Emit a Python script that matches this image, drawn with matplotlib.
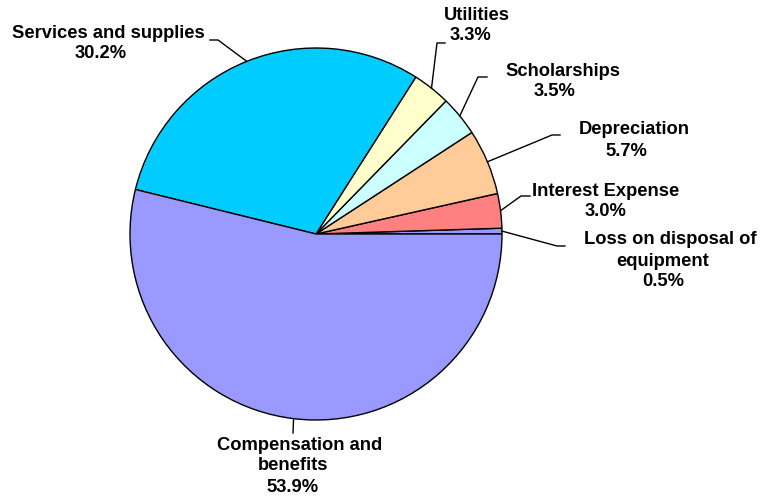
import matplotlib
matplotlib.use("Agg")
import matplotlib.pyplot as plt
import numpy as np

categories = ["Loss on disposal of\nequipment", "Interest Expense", "Depreciation",
              "Scholarships", "Utilities", "Services and supplies",
              "Compensation and\nbenefits"]
values = [0.5, 3.0, 5.7, 3.5, 3.3, 30.2, 53.9]
colors = ["#9999FF", "#FF8080", "#FFCC99", "#CCFFFF", "#FFFFCC", "#00CCFF", "#9999FF"]

# label layout (pixel coords, y from top): first-line center x, other-lines center x, first-line center y
label_pos = [(670, 663, 240), (606, 606, 191), (634, 626, 130), (563, 555, 71),
             (477, 470, 15), (108, 101, 33), (300, 293, 445)]
elbows = [((557, 246), (565, 246)), ((521, 196), (530, 196)), ((552, 135), (560, 135)),
          ((478, 77), (487, 77)), ((437, 43), (445, 43)), ((218, 40), (210, 40)),
          ((293, 433), (293, 433))]
line_step = 21

W, H = 762, 500
fig = plt.figure(figsize=(W / 100, H / 100), dpi=100)
ax = fig.add_axes([0, 0, 1, 1])

cx, cy, r = 316, H - 234, 186
wedges, _ = ax.pie(values, colors=colors, startangle=0, counterclock=True,
                   center=(cx, cy), radius=r, frame=True,
                   wedgeprops=dict(edgecolor="black", linewidth=1.0))
ax.set_xlim(0, W)
ax.set_ylim(0, H)
ax.set_aspect("equal")
ax.axis("off")

font = dict(family=["Liberation Sans", "DejaVu Sans"], fontsize=13.2, fontweight="bold")
for w, cat, v, (x1, x2, y1), (e1, e2) in zip(wedges, categories, values, label_pos, elbows):
    mid = np.deg2rad((w.theta1 + w.theta2) / 2)
    ex, ey = cx + r * np.cos(mid), cy + r * np.sin(mid)
    ax.plot([ex, e1[0], e2[0]], [ey, H - e1[1], H - e2[1]], color="black", lw=1.0)
    lines = cat.split("\n") + [f"{v:.1f}%"]
    for j, ln in enumerate(lines):
        x = x1 if j == 0 else x2
        ax.text(x, H - (y1 + j * line_step), ln, ha="center", va="center", **font)

fig.savefig("out.png", dpi=100, facecolor="white")
